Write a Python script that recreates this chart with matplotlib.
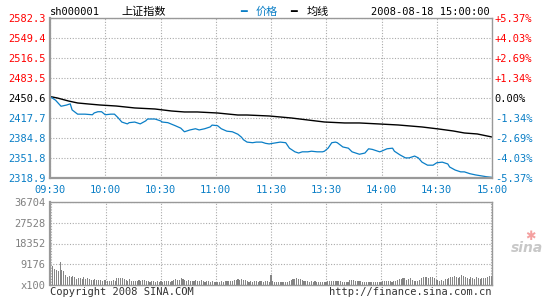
import numpy as np
import matplotlib.pyplot as plt

plt.rcParams['font.family'] = ['DejaVu Sans Mono', 'Noto Sans CJK SC']

# intraday price (minute index from 09:30, lunch break skipped)
price_min = [0, 3, 6, 9, 11, 12, 15, 17, 19, 23, 24, 26, 28, 30, 33, 35, 37, 39, 42, 43,
             46, 49, 52, 53, 57, 60, 61, 64, 68, 71, 73, 76, 79, 81, 84, 87, 88, 91, 93, 96,
             99, 102, 104, 105, 107, 110, 112, 115, 117, 119, 123, 125, 128, 130, 133, 135,
             137, 140, 142, 145, 148, 149, 151, 153, 155, 156, 159, 162, 164, 168, 171, 173,
             175, 179, 180, 183, 186, 187, 190, 193, 195, 198, 200, 202, 205, 208, 210, 213,
             216, 217, 220, 223, 225, 228, 231, 235, 237, 240]
price_val = [2453, 2447, 2437, 2439, 2441, 2431, 2424, 2424, 2424, 2423, 2426, 2428, 2428,
             2423, 2424, 2424, 2418, 2411, 2408, 2410, 2411, 2408, 2413, 2416, 2416, 2413,
             2411, 2410, 2405, 2401, 2395, 2398, 2400, 2398, 2400, 2403, 2406, 2405, 2400,
             2396, 2395, 2391, 2386, 2382, 2378, 2377, 2378, 2378, 2376, 2375, 2377, 2378,
             2377, 2368, 2362, 2360, 2362, 2362, 2363, 2362, 2362, 2363, 2368, 2377, 2378,
             2377, 2370, 2368, 2362, 2358, 2360, 2367, 2366, 2362, 2363, 2367, 2368, 2363,
             2357, 2352, 2352, 2355, 2352, 2345, 2340, 2340, 2344, 2345, 2342, 2337, 2332,
             2329, 2329, 2326, 2324, 2322, 2321, 2320]

avg_min = [0, 4, 10, 15, 21, 27, 36, 46, 57, 66, 73, 80, 91, 102, 107, 119, 131, 140, 149,
           160, 168, 179, 189, 202, 211, 219, 225, 232, 240]
avg_val = [2453, 2450.6, 2445.7, 2442.4, 2440.7, 2439.1, 2437.4, 2434.2, 2432.5, 2429.2,
           2427.6, 2427.6, 2425.9, 2422.6, 2422.6, 2421.0, 2417.7, 2414.4, 2411.1, 2409.5,
           2409.5, 2407.8, 2406.2, 2402.9, 2399.6, 2396.3, 2393.0, 2391.4, 2386.4]

# volume per minute, thousands of (x100 shares)
vol_k = [6.2, 8.4, 7.1, 6.6, 6.2, 10.2, 6.6, 6.2, 4.4, 3.5,
         4.0, 3.5, 4.0, 3.5, 2.7, 3.1, 3.1, 2.7, 3.5, 2.7,
         3.1, 2.7, 2.2, 2.2, 2.7, 2.2, 2.2, 2.2, 1.8, 2.2,
         2.2, 1.8, 1.8, 1.8, 2.2, 1.8, 3.1, 3.1, 3.1, 3.1,
         2.7, 2.2, 1.8, 2.7, 1.8, 1.8, 1.8, 1.8, 2.2, 1.8,
         2.2, 2.2, 1.8, 1.8, 1.3, 1.8, 1.8, 1.3, 1.8, 1.3,
         1.8, 1.3, 1.8, 1.8, 1.8, 1.3, 1.8, 2.2, 2.7, 2.2,
         2.2, 3.1, 2.7, 2.2, 1.8, 2.2, 1.8, 1.8, 1.8, 2.2,
         1.8, 1.8, 2.2, 1.8, 1.3, 1.8, 1.8, 1.3, 1.8, 1.3,
         1.3, 1.3, 1.3, 1.8, 1.3, 1.8, 1.8, 1.8, 1.8, 1.8,
         2.2, 2.2, 2.7, 2.2, 2.7, 2.2, 2.2, 1.8, 1.3, 1.8,
         1.3, 1.8, 1.8, 1.3, 1.8, 1.8, 1.3, 1.8, 1.8, 1.3,
         4.4, 1.8, 1.3, 1.3, 1.3, 1.3, 1.3, 1.3, 1.3, 1.3,
         1.8, 2.2, 2.7, 2.7, 3.1, 2.7, 2.7, 2.2, 1.8, 1.8,
         1.8, 1.3, 1.8, 1.3, 1.8, 1.3, 1.3, 1.3, 1.3, 1.3,
         1.3, 1.8, 1.8, 1.8, 1.8, 1.8, 1.8, 1.8, 1.8, 1.3,
         1.3, 1.3, 1.3, 2.2, 2.2, 2.2, 1.8, 1.8, 1.8, 1.8,
         1.3, 1.3, 1.3, 1.3, 1.3, 1.3, 1.3, 1.3, 1.3, 1.3,
         1.3, 1.8, 1.8, 1.8, 1.8, 1.8, 1.3, 1.8, 1.8, 2.2,
         2.7, 2.7, 3.1, 3.1, 2.2, 2.7, 3.1, 2.2, 1.8, 1.8,
         1.8, 2.2, 3.1, 3.5, 3.5, 3.5, 3.1, 3.5, 3.5, 3.1,
         2.2, 2.2, 1.8, 2.2, 1.8, 2.7, 2.7, 3.1, 3.5, 3.5,
         4.0, 3.5, 3.1, 3.5, 4.4, 4.0, 3.5, 3.1, 2.7, 3.5,
         3.1, 2.7, 3.5, 3.1, 2.7, 3.1, 3.1, 3.1, 3.5, 4.0, 4.0]

prev_close = 2450.6
price_ticks = [2318.9, 2351.8, 2384.8, 2417.7, 2450.6, 2483.5, 2516.5, 2549.4, 2582.3]
pct_labels = ['-5.37%', '-4.03%', '-2.69%', '-1.34%', '0.00%', '+1.34%', '+2.69%', '+4.03%', '+5.37%']
time_labels = ['09:30', '10:00', '10:30', '11:00', '11:30', '13:30', '14:00', '14:30', '15:00']
vol_ticks = [0, 9176, 18352, 27528, 36704]
vol_labels = ['x100', '9176', '18352', '27528', '36704']

BLUE = '#0a7ec6'
RED = '#ff0000'
GRID = '#aaaaaa'
FRAME = '#999999'
FS = 7.5

fig = plt.figure(figsize=(5.45, 3.0), dpi=100)
W, H = 545, 300


def px_axes(x0, y0, x1, y1):
    return fig.add_axes([x0 / W, 1 - y1 / H, (x1 - x0) / W, (y1 - y0) / H])


def level_color(v):
    if abs(v - prev_close) < 0.01:
        return 'black'
    return RED if v > prev_close else BLUE


ax = px_axes(50, 18, 492, 178)
ax.plot(avg_min, avg_val, color='black', lw=1.0)
ax.plot(price_min, price_val, color=BLUE, lw=0.9)
ax.set_xlim(0, 240)
ax.set_ylim(price_ticks[0], price_ticks[-1])
ax.set_yticks(price_ticks)
ax.set_yticklabels([f'{v:.1f}' for v in price_ticks])
ax.set_xticks(range(0, 241, 30))
ax.set_xticklabels(time_labels)
ax.tick_params(length=0, labelsize=FS, pad=3)
ax.tick_params(axis='x', pad=5)
for lab in ax.get_xticklabels():
    lab.set_color(BLUE)
for lab, v in zip(ax.get_yticklabels(), price_ticks):
    lab.set_color(level_color(v))
ax.grid(True, color=GRID, ls=(0, (1, 1.5)), lw=0.8)
for s in ax.spines.values():
    s.set_color(FRAME)
    s.set_linewidth(1.0)
ax.spines['left'].set_linewidth(1.6)
ax.spines['bottom'].set_linewidth(1.6)

ax2 = ax.twinx()
ax2.set_ylim(ax.get_ylim())
ax2.set_yticks(price_ticks)
ax2.set_yticklabels(pct_labels)
ax2.tick_params(length=0, labelsize=FS, pad=2)
for lab, v in zip(ax2.get_yticklabels(), price_ticks):
    lab.set_color(level_color(v))
for s in ax2.spines.values():
    s.set_visible(False)

# volume
vax = px_axes(50, 202, 492, 285)
vol = np.array(vol_k) * 1000
vax.bar(np.arange(len(vol)), vol, width=0.6, color='#858585', align='center')
vax.set_xlim(-0.5, 240.5)
vax.set_ylim(0, vol_ticks[-1])
vax.set_yticks(vol_ticks)
vax.set_yticklabels(vol_labels, color='#808080')
vax.set_xticks(range(0, 241, 30))
vax.set_xticklabels([])
vax.tick_params(length=0, labelsize=FS, pad=3)
vax.grid(True, color=GRID, ls=(0, (1, 1.5)), lw=0.8)
vax.set_axisbelow(True)
for s in vax.spines.values():
    s.set_color(FRAME)
    s.set_linewidth(1.0)
vax.spines['left'].set_linewidth(1.6)

# header
cjk = ['Noto Sans CJK SC', 'DejaVu Sans']
fig.text(50 / W, 1 - 12 / H, 'sh000001', fontsize=FS, va='center', ha='left')
fig.text(121 / W, 1 - 12 / H, '上证指数', fontsize=8, va='center', ha='left', family=cjk)
fig.text(240 / W, 1 - 12 / H, '━', fontsize=8, va='center', ha='left', color=BLUE, fontweight='bold')
fig.text(256 / W, 1 - 12 / H, '价格', fontsize=8, va='center', ha='left', color=BLUE, family=cjk)
fig.text(290 / W, 1 - 12 / H, '━', fontsize=8, va='center', ha='left', color='black', fontweight='bold')
fig.text(307 / W, 1 - 12 / H, '均线', fontsize=8, va='center', ha='left', family=cjk)
fig.text(490 / W, 1 - 12 / H, '2008-08-18 15:00:00', fontsize=FS, va='center', ha='right')

# footer
fig.text(50 / W, 1 - 292 / H, 'Copyright 2008 SINA.COM', fontsize=FS, va='center', ha='left', color='#333333')
fig.text(492 / W, 1 - 292 / H, 'http://finance.sina.com.cn', fontsize=FS, va='center', ha='right', color='#333333')

# sina watermark
fig.text(527 / W, 1 - 248 / H, 'sina', fontsize=10, fontweight='bold', style='italic',
         color='#c8c8c8', ha='center', va='center', family='DejaVu Sans')
fig.text(530 / W, 1 - 236 / H, '✱', fontsize=9, color='#f4a0a0', ha='center', va='center',
         family='DejaVu Sans')

fig.savefig('out.png', dpi=100, facecolor='white')
